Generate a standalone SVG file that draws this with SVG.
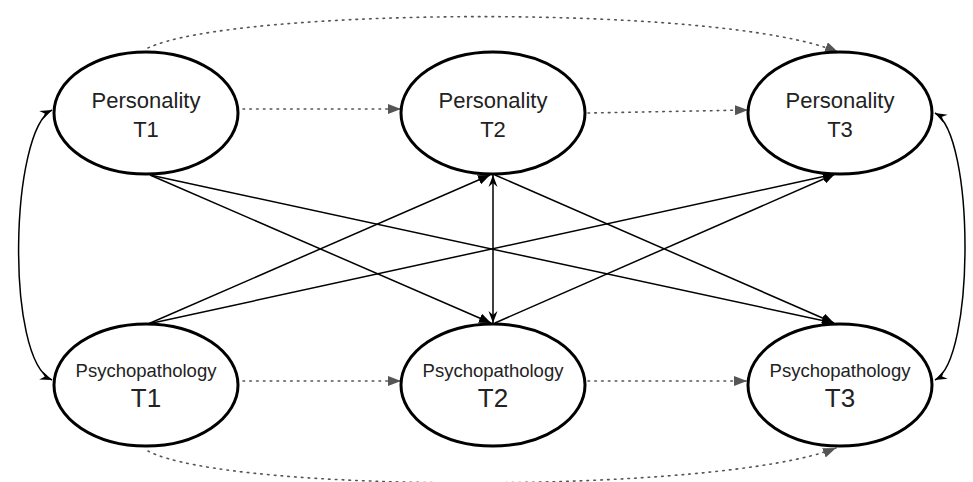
<svg xmlns="http://www.w3.org/2000/svg" width="973" height="482" viewBox="0 0 973 482">
<style>
.node ellipse{fill:#fff;stroke:#000;stroke-width:3}
.t{font-family:"Liberation Sans",Arial,sans-serif;fill:#222;text-anchor:middle}
.p{font-size:22px}
.s{font-size:18.5px}
.b{font-size:26px}
.solid{fill:none;stroke:#000;stroke-width:1.5}
.dot{fill:none;stroke:#555;stroke-width:1.6;stroke-dasharray:1.6 5.2;stroke-linecap:round}
</style>
<defs>
<marker id="ah" viewBox="0 0 12 10" refX="12" refY="5" markerWidth="12" markerHeight="10" orient="auto" markerUnits="userSpaceOnUse"><path d="M0,0 L12,5 L0,10 z" fill="#000"/></marker>
<marker id="open" viewBox="0 0 12 10" refX="12" refY="5" markerWidth="12" markerHeight="10" orient="auto-start-reverse" markerUnits="userSpaceOnUse"><path d="M0,0.5 L12,5 L0,9.5 L4,5 z" fill="#000"/></marker>
<marker id="gh" viewBox="0 0 13 10" refX="13" refY="5" markerWidth="13" markerHeight="10" orient="auto" markerUnits="userSpaceOnUse"><path d="M0,0 L13,5 L0,10 z" fill="#555"/></marker>
</defs>
<g id="connectors">
<path class="dot" d="M148,48 C230,8 720,3 838,52" marker-end="url(#gh)"/>
<path class="dot" d="M148,451 C230,494 720,494 836,448" marker-end="url(#gh)"/>
<path class="dot" d="M243,109 L401,109" marker-end="url(#gh)"/>
<path class="dot" d="M588,113 L748,110" marker-end="url(#gh)"/>
<path class="dot" d="M243,381 L401,381" marker-end="url(#gh)"/>
<path class="dot" d="M588,381 L747,381" marker-end="url(#gh)"/>
<path class="solid" d="M52,110 C10,130 5,360 52,380" marker-start="url(#open)" marker-end="url(#open)"/>
<path class="solid" d="M935,113 C975,135 975,360 935,380" marker-start="url(#open)" marker-end="url(#open)"/>
<path class="solid" d="M493,175 L493,323" marker-start="url(#open)" marker-end="url(#open)"/>
<path class="solid" d="M150,175 L491,323" marker-end="url(#ah)"/>
<path class="solid" d="M150,175 L834,323" marker-end="url(#ah)"/>
<path class="solid" d="M148,324 L490,175" marker-end="url(#ah)"/>
<path class="solid" d="M148,324 L835,174" marker-end="url(#ah)"/>
<path class="solid" d="M495,175 L834,323" marker-end="url(#ah)"/>
<path class="solid" d="M495,323 L835,174" marker-end="url(#ah)"/>
</g>
<g id="personality-t1" class="node"><ellipse cx="146" cy="113" rx="92" ry="61"/><text class="t p" x="146" y="108">Personality</text><text class="t p" x="146" y="137">T1</text></g>
<g id="personality-t2" class="node"><ellipse cx="493" cy="113" rx="92" ry="61"/><text class="t p" x="493" y="108">Personality</text><text class="t p" x="493" y="137">T2</text></g>
<g id="personality-t3" class="node"><ellipse cx="840" cy="113" rx="92" ry="61"/><text class="t p" x="840" y="108">Personality</text><text class="t p" x="840" y="137">T3</text></g>
<g id="psychopathology-t1" class="node"><ellipse cx="146" cy="385" rx="92" ry="61"/><text class="t s" x="146" y="377">Psychopathology</text><text class="t b" x="146" y="407">T1</text></g>
<g id="psychopathology-t2" class="node"><ellipse cx="493" cy="385" rx="92" ry="61"/><text class="t s" x="493" y="377">Psychopathology</text><text class="t b" x="493" y="407">T2</text></g>
<g id="psychopathology-t3" class="node"><ellipse cx="840" cy="385" rx="92" ry="61"/><text class="t s" x="840" y="377">Psychopathology</text><text class="t b" x="840" y="407">T3</text></g>
</svg>
